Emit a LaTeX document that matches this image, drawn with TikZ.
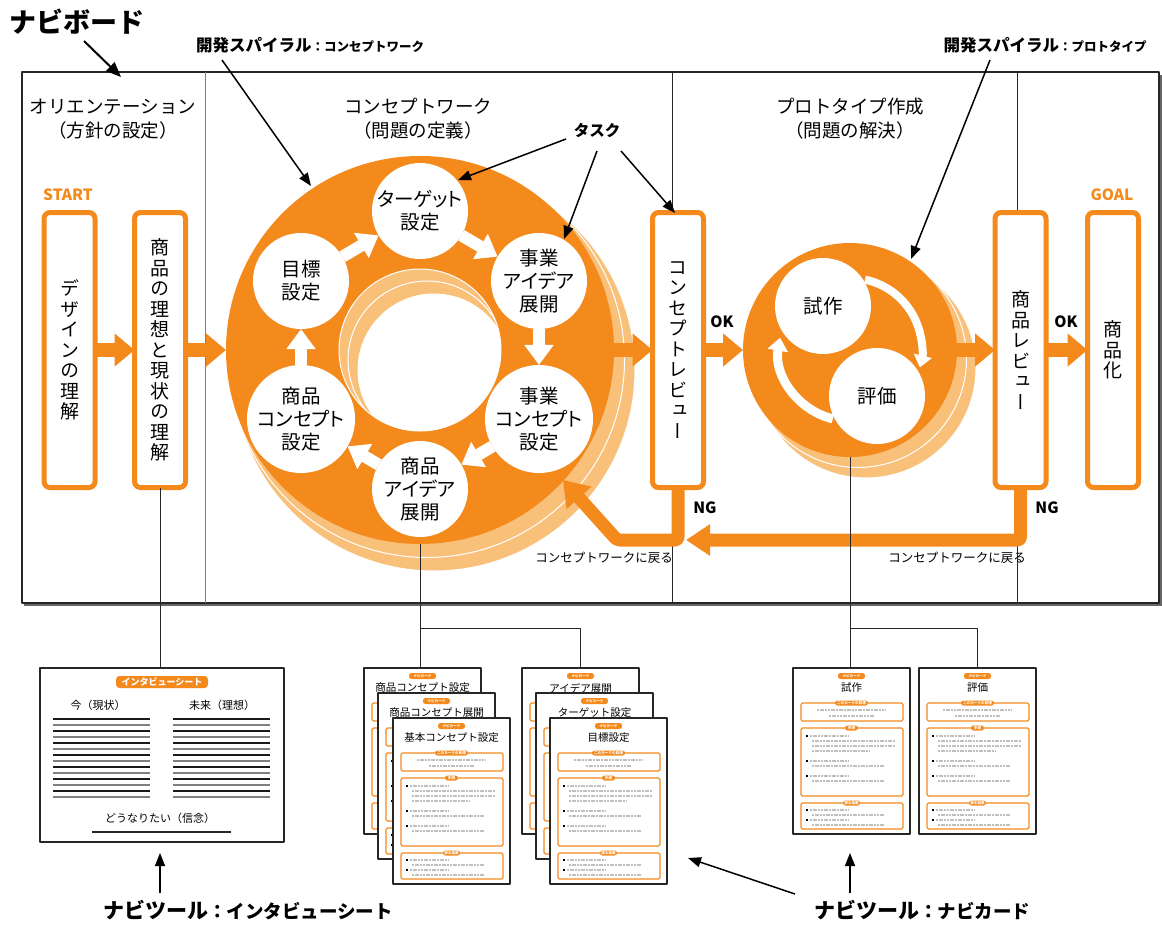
\documentclass[tikz,border=0pt]{standalone}
\usepackage{fontspec}
\setmainfont{Noto Sans CJK JP}
\newfontfamily\jpp{Noto Sans CJK JP}[RawFeature={+palt}]
\newfontfamily\jpv{Noto Sans CJK JP}[RawFeature={+vert}]
\usetikzlibrary{arrows.meta}
\definecolor{org}{RGB}{244,137,28}
\definecolor{pale}{RGB}{249,192,122}
\newcommand{\trw}[3]{\draw[trow] (#1,#3) -- (#2,#3);}
\newcommand{\bul}[2]{\fill[black] ({#1-1.3},{#2-1.3}) rectangle ({#1+1.3},{#2+1.3});}
% card body without the small box labels (used for cards lying behind others)
\newcommand{\cardbody}[4]{%
  \node[card] (#1) at ({#2+58.5},{#3+83}) {};
  \begin{scope}[shift={(#2,#3)}]
    \node[npill, minimum width=27pt, minimum height=6pt] (#1-p) at (58.5,8) {ナビカード};
    \node[font=\fontsize{10.5}{12}\selectfont] (#1-t) at (58.5,20) {#4};
    \draw[cbox] (8,35) rectangle (110,53);
    \trw{24}{93}{42}\trw{36}{81}{48}
    \draw[cbox] (8,60) rectangle (110,128);
    \bul{14}{68}\trw{17}{56}{68}
    \trw{19}{102}{73}\trw{19}{102}{78}\trw{19}{76}{83}
    \bul{14}{93}\trw{17}{56}{93}\trw{19}{91}{98}
    \bul{14}{108}\trw{17}{56}{108}\trw{19}{91}{113}
    \draw[cbox] (8,135) rectangle (110,161);
    \bul{14}{142}\trw{17}{56}{142}\trw{19}{91}{147}
    \bul{14}{152}\trw{17}{56}{152}\trw{19}{91}{157}
  \end{scope}}
\newcommand{\navicard}[4]{%
  \cardbody{#1}{#2}{#3}{#4}
  \begin{scope}[shift={(#2,#3)}]
    \node[npill, minimum width=33pt, minimum height=5pt] (#1-p1) at (58.5,35) {このカードの目標};
    \node[npill, minimum width=13pt, minimum height=5pt] (#1-p2) at (58.5,60) {手順};
    \node[npill, minimum width=17pt, minimum height=5pt] (#1-p3) at (58.5,135) {得る結果};
  \end{scope}}
\begin{document}
\begin{tikzpicture}[x=1pt,y=-1pt,line join=round,
  every node/.style={inner sep=0pt,outer sep=0pt},
  vbox/.style={draw=org,line width=5pt,fill=white,rounded corners=6pt,minimum width=51pt,minimum height=275pt,align=center,font=\jpv\fontsize{19}{20.5}\selectfont},
  obarrow/.style={draw=org,line width=14pt,-{Triangle[length=20pt,width=32pt]}},
  wbarrow/.style={draw=white,line width=12pt,-{Triangle[length=20pt,width=28pt]}},
  wcirc/.style={circle,fill=white,minimum size=96pt,align=center,font=\jpp\fontsize{19.5}{23}\selectfont},
  callout/.style={draw=black,line width=1.5pt,-{Triangle[length=13pt,width=10pt]}},
  conn/.style={draw=black!85,line width=1pt},
  ngline/.style={draw=org,line width=13pt,rounded corners=3pt},
  card/.style={draw=black!85,line width=1.3pt,fill=white,minimum width=117pt,minimum height=166pt},
  npill/.style={fill=org,rounded corners=2.5pt,text=white,font=\bfseries\fontsize{3.6}{4}\selectfont},
  cbox/.style={draw=org,line width=1.2pt,rounded corners=1.5pt},
  trow/.style={draw=gray!50,line width=2pt,dash pattern=on 2pt off 0.7pt},
  lbl/.style={font=\bfseries\fontsize{15.5}{16}\selectfont},
  olbl/.style={text=org,font=\bfseries\fontsize{15.5}{16}\selectfont}]
\useasboundingbox (0,0) rectangle (1162,924);
\fill[white] (0,0) rectangle (1162,924);
% board
\fill[black!60] (24,75) rectangle (1162,606);
\filldraw[fill=white,draw=black!85,line width=1.2pt] (22,72) rectangle (1159,603);
\draw[gray,line width=1pt] (205,72) -- (205,603);
\draw[black!85,line width=1pt] (672,72) -- (672,603);
\draw[black!85,line width=1pt] (1017,72) -- (1017,603);
% headers
\node[align=center,font=\fontsize{18.5}{24}\selectfont] (h1) at (113,119) {オリエンテーション\\（方針の設定）};
\node[align=center,font=\fontsize{18.5}{24}\selectfont] (h2) at (418,119) {コンセプトワーク\\（問題の定義）};
\node[align=center,font=\fontsize{18.5}{24}\selectfont] (h3) at (850,119) {プロトタイプ作成\\（問題の解決）};
% concept spiral (stacked turns behind)
\foreach \dx/\dy/\ro/\ri in {14/20/201/76,7/10/197.5/79}{
  \fill[pale,even odd rule] ({420+\dx},{350+\dy}) circle[radius=\ro pt] ({420+\dx},{350+\dy}) circle[radius=\ri pt];
  \draw[white,line width=1pt] ({420+\dx},{350+\dy}) circle[radius=\ro pt] ({420+\dx},{350+\dy}) circle[radius=\ri pt];
}
\fill[org,even odd rule] (420,350) circle[radius=194pt] (420,350) circle[radius=81pt];
\draw[white,line width=1pt] (420,350) circle[radius=81pt];
\node[circle,minimum size=388pt] (ring) at (420,350) {};
\node[wcirc] (t) at (420,211) {ターゲット\\設定};
\node[wcirc] (ba) at (539,281) {事業\\アイデア\\展開};
\node[wcirc] (bc) at (539,419) {事業\\コンセプト\\設定};
\node[wcirc] (sa) at (420,489) {商品\\アイデア\\展開};
\node[wcirc] (sc) at (301,419) {商品\\コンセプト\\設定};
\node[wcirc] (mk) at (301,281) {目標\\設定};
\foreach \a/\b in {mk/t,t/ba,ba/bc,bc/sa,sa/sc,sc/mk}{\draw[wbarrow] (\a) -- (\b);}
% prototype spiral
\foreach \dx/\dy/\ro in {16/18/110,8/9/108.5}{
  \filldraw[fill=pale,draw=white,line width=1pt] ({850+\dx},{350+\dy}) circle[radius=\ro pt];
}
\node[circle,fill=org,minimum size=214pt] (proto) at (850,350) {};
\node[wcirc] (sk) at (823,306) {試作};
\node[wcirc] (hk) at (877,396) {評価};
\draw[white,line width=8pt,-{Triangle[length=12pt,width=18pt]}] (proto.center) ++(78:72pt) arc[start angle=78,end angle=-14,radius=72pt];
\draw[white,line width=9pt,-{Triangle[length=13pt,width=20pt]}] (proto.center) ++(256:71pt) arc[start angle=256,end angle=170,radius=71pt];
% NG paths
\coordinate (ngc) at (617,540);
\coordinate (ngtip) at (563,480);
\coordinate (ngR) at (686,540);
% boxes
\node[vbox] (b1) at (69.5,350) {デ\\ザ\\イ\\ン\\の\\理\\解};
\node[vbox] (b2) at (160,350) {商\\品\\の\\理\\想\\と\\現\\状\\の\\理\\解};
\node[vbox] (rv) at (678,350) {コ\\ン\\セ\\プ\\ト\\レ\\ビ\\ュ\\ー};
\node[vbox] (pr) at (1020.5,350) {商\\品\\レ\\ビ\\ュ\\ー};
\node[vbox] (sh) at (1113,350) {商\\品\\化};
\draw[ngline,-{Triangle[length=24pt,width=32pt]}] (rv.south) -- (rv.south |- ngc) -- (ngc) -- (ngtip);
\draw[ngline,-{Triangle[length=24pt,width=30pt]}] (pr.south) -- (pr.south |- ngc) -- (ngR);
\draw[obarrow] (b1) -- (b2);
\draw[obarrow] (b2) -- (ring);
\draw[obarrow] (ring) -- (rv);
\draw[obarrow] (rv) -- (proto);
\draw[obarrow] (proto) -- (pr);
\draw[obarrow] (pr) -- (sh);
% labels
\node[olbl] (start) at (68,195) {START};
\node[olbl] (goal) at (1112,195) {GOAL};
\node[lbl] (ok1) at (722,322) {OK};
\node[lbl] (ok2) at (1066,322) {OK};
\node[lbl] (ng1) at (705,508) {NG};
\node[lbl] (ng2) at (1047,508) {NG};
\node[font=\fontsize{12.5}{13}\selectfont] (back1) at (604,558) {コンセプトワークに戻る};
\node[font=\fontsize{12.5}{13}\selectfont] (back2) at (957,558) {コンセプトワークに戻る};
% tools
\node[draw=black!85,line width=1.3pt,fill=white,minimum width=244pt,minimum height=174pt] (sheet) at (162,755) {};
\node[fill=org,rounded corners=3.5pt,minimum width=92pt,minimum height=12pt,text=white,font=\bfseries\fontsize{9}{10}\selectfont] (spill) at (162,682) {インタビューシート};
\node[font=\fontsize{11}{12}\selectfont] (ima) at (98,705) {今（現状）};
\node[font=\fontsize{11}{12}\selectfont] (mirai) at (222,705) {未来（理想）};
\foreach \i in {0,2,...,12}{
  \draw[black!90,line width=1.2pt] (53,{719+6*\i}) -- (150,{719+6*\i});
  \draw[black!90,line width=1.2pt] (173,{719+6*\i}) -- (270,{719+6*\i});}
\foreach \i in {1,3,...,13}{
  \draw[black!50,line width=1.2pt] (53,{719+6*\i}) -- (150,{719+6*\i});
  \draw[black!50,line width=1.2pt] (173,{719+6*\i}) -- (270,{719+6*\i});}
\node[font=\fontsize{11}{12}\selectfont] (douna) at (160,818) {どうなりたい（信念）};
\draw[black!85,line width=1.2pt] (92,832) -- (231,832);
\cardbody{cA1}{364}{668}{商品コンセプト設定}
\cardbody{cA2}{378}{693}{商品コンセプト展開}
\navicard{cA3}{393}{718}{基本コンセプト設定}
\cardbody{cB1}{522}{668}{アイデア展開}
\cardbody{cB2}{536}{693}{ターゲット設定}
\navicard{cB3}{550}{718}{目標設定}
\navicard{cP1}{793}{668}{試作}
\navicard{cP2}{919}{668}{評価}
% thin connectors
\coordinate (j1) at (420,628);
\coordinate (j2) at (850,628);
\draw[conn] (b2.south) -- (b2.south |- sheet.north);
\draw[conn] (ring.south) -- (ring.south |- cA1.north);
\draw[conn] (j1) -- (j1 -| cB1.north) -- (cB1.north);
\draw[conn] (proto.south) -- (proto.south |- cP1.north);
\draw[conn] (j2) -- (j2 -| cP2.north) -- (cP2.north);
% titles and callouts
\node[font=\bfseries\fontsize{27}{28}\selectfont] (navi) at (77,22) {ナビボード};
\node (sp1) at (310,45) {\bfseries\fontsize{16.5}{17}\selectfont 開発スパイラル\fontsize{12.5}{13}\selectfont ：コンセプトワーク};
\node (sp2) at (1045,45) {\bfseries\fontsize{16.5}{17}\selectfont 開発スパイラル\fontsize{12.5}{13}\selectfont ：プロトタイプ};
\node[font=\bfseries\fontsize{15.5}{16}\selectfont] (task) at (597,131) {タスク};
\node (nt1) at (248,910) {\bfseries\fontsize{21}{22}\selectfont ナビツール\fontsize{18.5}{19}\selectfont ：インタビューシート};
\node (nt2) at (922,910) {\bfseries\fontsize{21}{22}\selectfont ナビツール\fontsize{18.5}{19}\selectfont ：ナビカード};
\coordinate (a1s) at (84,41); \coordinate (a1e) at (121,77);
\coordinate (a2s) at (222,60); \coordinate (a2e) at (311,186);
\coordinate (a3s) at (990,60); \coordinate (a3e) at (911,259);
\coordinate (t1s) at (566,139); \coordinate (t1e) at (458,180);
\coordinate (t2s) at (597,151); \coordinate (t2e) at (564,239);
\coordinate (t3s) at (621,151); \coordinate (t3e) at (675,213);
\coordinate (u1s) at (160,893); \coordinate (u1e) at (160,853);
\coordinate (u2s) at (850,893); \coordinate (u2e) at (850,853);
\coordinate (u3s) at (795,894); \coordinate (u3e) at (688,858);
\draw[callout,line width=2pt,-{Triangle[length=15pt,width=12pt]}] (a1s) -- (a1e);
\draw[callout] (a2s) -- (a2e);
\draw[callout] (a3s) -- (a3e);
\draw[callout] (t1s) -- (t1e);
\draw[callout] (t2s) -- (t2e);
\draw[callout] (t3s) -- (t3e);
\draw[callout] (u1s) -- (u1e);
\draw[callout] (u2s) -- (u2e);
\draw[callout] (u3s) -- (u3e);
\end{tikzpicture}
\end{document}
